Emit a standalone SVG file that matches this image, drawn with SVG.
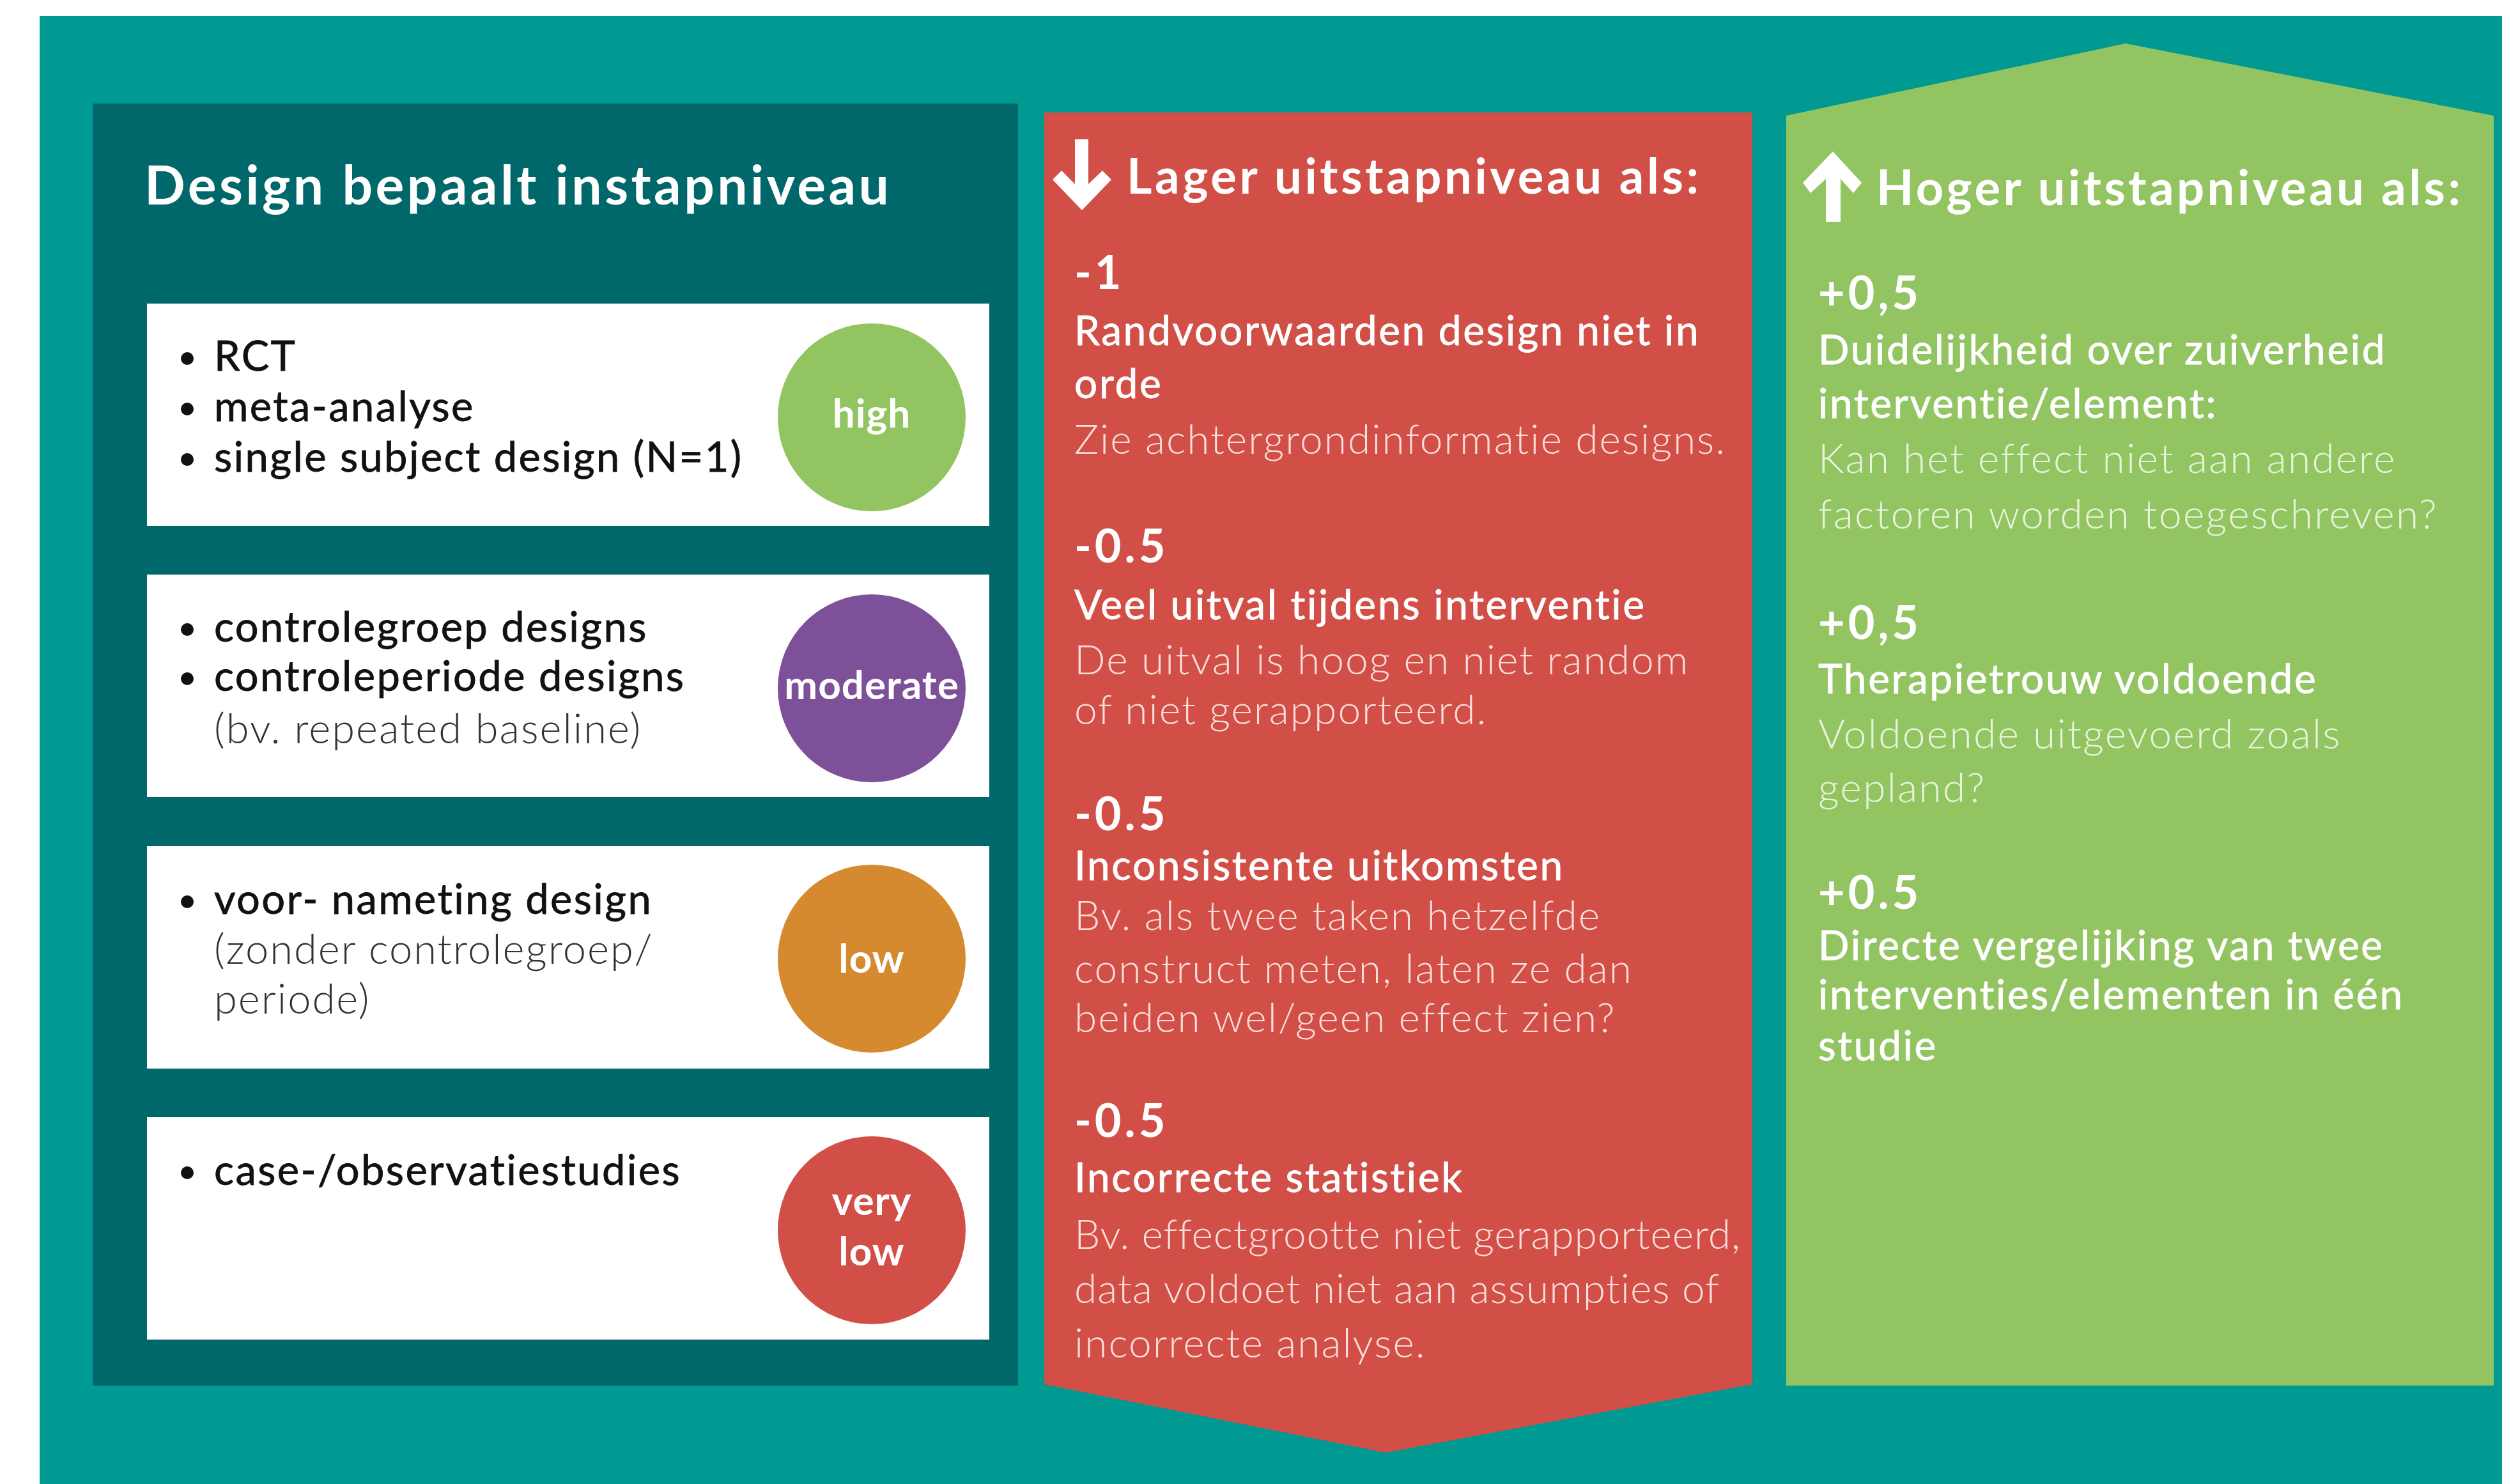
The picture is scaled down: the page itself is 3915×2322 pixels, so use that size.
<svg xmlns="http://www.w3.org/2000/svg" width="3915" height="2322" viewBox="0 0 3915 2322">
<style>
text{font-family:Lato,"Open Sans","Liberation Sans",sans-serif;font-variant-ligatures:none}
.title{font-size:84px;font-weight:700;fill:#fff;letter-spacing:4.4px}
.head{font-size:76px;font-weight:700;fill:#fff}
.num{font-size:72px;font-weight:700;fill:#fff;letter-spacing:5px}
.sub{font-size:64px;font-weight:400;fill:#fff;stroke:#fff;stroke-width:0.8px;letter-spacing:2.6px}
.lr{font-size:64px;font-weight:300;fill:#f9dedb;letter-spacing:2px}
.lg{font-size:64px;font-weight:300;fill:#e8f4dc;letter-spacing:2.3px}
.item{font-size:65px;font-weight:400;fill:#111;stroke:#111;stroke-width:0.8px;letter-spacing:2.4px}
.note{font-size:65px;font-weight:300;fill:#333;letter-spacing:2px}
.lvl{font-size:62px;font-weight:700;fill:#fff;text-anchor:middle;letter-spacing:1px}
.box{fill:#fff}
.bul{fill:#111}
.arrow{fill:#fff}
</style>
<rect x="0" y="0" width="3915" height="2322" fill="#fff"/>
<rect x="62" y="25" width="3853" height="2297" fill="#009a93"/>

<g id="design-panel">
<rect x="145" y="162" width="1448" height="2006" fill="#00686b"/>
<text class="title" x="226" y="320">Design bepaalt instapniveau</text>
</g>

<g id="box-high">
<rect class="box" x="230" y="475" width="1318" height="348"/>
<circle class="bul" cx="293" cy="561" r="10"/>
<circle class="bul" cx="293" cy="640" r="10"/>
<circle class="bul" cx="293" cy="719" r="10"/>
<text class="item" x="335" y="580">RCT</text>
<text class="item" x="335" y="659">meta-analyse</text>
<text class="item" x="335" y="738">single subject design (N=1)</text>
<circle cx="1364" cy="653" r="147" fill="#93c462"/>
<text class="lvl" x="1364" y="669">high</text>
</g>

<g id="box-moderate">
<rect class="box" x="230" y="899" width="1318" height="348"/>
<circle class="bul" cx="293" cy="985" r="10"/>
<circle class="bul" cx="293" cy="1062" r="10"/>
<text class="item" x="335" y="1004">controlegroep designs</text>
<text class="item" x="335" y="1081">controleperiode designs</text>
<text class="note" x="335" y="1163">(bv. repeated baseline)</text>
<circle cx="1364" cy="1077" r="147" fill="#7d519a"/>
<text class="lvl" x="1364" y="1094">moderate</text>
</g>

<g id="box-low">
<rect class="box" x="230" y="1324" width="1318" height="348"/>
<circle class="bul" cx="293" cy="1411" r="10"/>
<text class="item" x="335" y="1430">voor- nameting design</text>
<text class="note" x="335" y="1508">(zonder controlegroep/</text>
<text class="note" x="335" y="1586">periode)</text>
<circle cx="1364" cy="1500" r="147" fill="#d68a2f"/>
<text class="lvl" x="1364" y="1522">low</text>
</g>

<g id="box-verylow">
<rect class="box" x="230" y="1748" width="1318" height="348"/>
<circle class="bul" cx="293" cy="1835" r="10"/>
<text class="item" x="335" y="1854">case-/observatiestudies</text>
<circle cx="1364" cy="1925" r="147" fill="#d14f47"/>
<text class="lvl" x="1364" y="1901">very</text>
<text class="lvl" x="1364" y="1980">low</text>
</g>

<g id="lower-panel">
<polygon points="1634,176 2742,176 2742,2166 2168,2273 1634,2166" fill="#d14f47"/>
<polygon class="arrow" points="1682,218 1703,218 1703,288 1725,267 1739,281 1693,329 1647,281 1661,267 1682,288"/>
<text class="head" x="1763" y="303" textLength="895" lengthAdjust="spacing">Lager uitstapniveau als:</text>
<text class="num" x="1681" y="452">-1</text>
<text class="sub" x="1681" y="540">Randvoorwaarden design niet in</text>
<text class="sub" x="1681" y="623">orde</text>
<text class="lr" x="1681" y="710">Zie achtergrondinformatie designs.</text>
<text class="num" x="1681" y="880">-0.5</text>
<text class="sub" x="1681" y="969">Veel uitval tijdens interventie</text>
<text class="lr" x="1681" y="1055">De uitval is hoog en niet random</text>
<text class="lr" x="1681" y="1133">of niet gerapporteerd.</text>
<text class="num" x="1681" y="1299">-0.5</text>
<text class="sub" x="1681" y="1377">Inconsistente uitkomsten</text>
<text class="lr" x="1681" y="1455">Bv. als twee taken hetzelfde</text>
<text class="lr" x="1681" y="1538">construct meten, laten ze dan</text>
<text class="lr" x="1681" y="1615">beiden wel/geen effect zien?</text>
<text class="num" x="1681" y="1779">-0.5</text>
<text class="sub" x="1681" y="1865">Incorrecte statistiek</text>
<text class="lr" x="1681" y="1954" textLength="1044" lengthAdjust="spacing">Bv. effectgrootte niet gerapporteerd,</text>
<text class="lr" x="1681" y="2039" textLength="1011" lengthAdjust="spacing">data voldoet niet aan assumpties of</text>
<text class="lr" x="1681" y="2124">incorrecte analyse.</text>
</g>

<g id="higher-panel">
<polygon points="2795,181 3326,68 3902,181 3902,2168 2795,2168" fill="#93c462"/>
<polygon class="arrow" points="2868,237 2913,286 2900,302 2880,280 2880,347 2857,347 2857,280 2833,302 2821,286"/>
<text class="head" x="2936" y="321" textLength="914" lengthAdjust="spacing">Hoger uitstapniveau als:</text>
<text class="num" x="2845" y="484">+0,5</text>
<text class="sub" x="2845" y="570">Duidelijkheid over zuiverheid</text>
<text class="sub" x="2845" y="654">interventie/element:</text>
<text class="lg" x="2845" y="740">Kan het effect niet aan andere</text>
<text class="lg" x="2845" y="827">factoren worden toegeschreven?</text>
<text class="num" x="2845" y="1000">+0,5</text>
<text class="sub" x="2845" y="1085">Therapietrouw voldoende</text>
<text class="lg" x="2845" y="1171">Voldoende uitgevoerd zoals</text>
<text class="lg" x="2845" y="1255">gepland?</text>
<text class="num" x="2845" y="1422">+0.5</text>
<text class="sub" x="2845" y="1502">Directe vergelijking van twee</text>
<text class="sub" x="2845" y="1579">interventies/elementen in één</text>
<text class="sub" x="2845" y="1659">studie</text>
</g>

<g id="connectors"></g>
</svg>
